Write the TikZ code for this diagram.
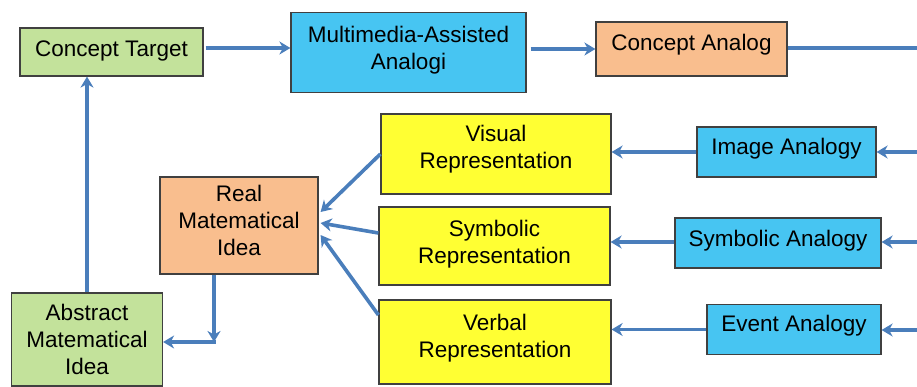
\documentclass[tikz,border=0pt]{standalone}
\usepackage{fontspec}
\setmainfont{Liberation Sans}
\usetikzlibrary{arrows.meta,calc}
\definecolor{boxgreen}{HTML}{C3E29B}
\definecolor{boxblue}{HTML}{47C5F2}
\definecolor{boxorange}{HTML}{F9BE8E}
\definecolor{boxyellow}{HTML}{FFFF33}
\definecolor{arrowblue}{HTML}{4A7EBB}
\definecolor{edgegray}{HTML}{404040}
\tikzset{
  box/.style={draw=edgegray, line width=1.2pt, inner sep=0pt},
  txt/.style={font=\fontsize{22.5}{27}\selectfont, align=center, text=black, inner sep=0pt},
  arr/.style={draw=arrowblue, line width=3.6pt, -{Stealth[length=11pt,width=13pt,inset=3.5pt]}},
  ln/.style={draw=arrowblue, line width=3.6pt}
}
\begin{document}
\begin{tikzpicture}[x=1pt,y=-1pt]
\useasboundingbox (0,0) rectangle (917,387);
% boxes
\node[box, fill=boxgreen, minimum width=183pt, minimum height=48pt,
  label={[txt, yshift=1pt]center:Concept Target}] (ct) at (111.5,52) {};
\node[box, fill=boxblue, minimum width=235pt, minimum height=80pt,
  label={[txt, yshift=2pt]center:Multimedia-Assisted\\Analogi}] (mm) at (408.5,52.5) {};
\node[box, fill=boxorange, minimum width=191pt, minimum height=54pt,
  label={[txt, yshift=4pt]center:Concept Analog}] (ca) at (691.5,49) {};
\node[box, fill=boxyellow, minimum width=230pt, minimum height=80pt,
  label={[txt, yshift=5pt]center:Visual\\Representation}] (vr) at (496,154) {};
\node[box, fill=boxblue, minimum width=179pt, minimum height=50pt,
  label={[txt, yshift=3pt]center:Image Analogy}] (ia) at (786.5,152) {};
\node[box, fill=boxyellow, minimum width=231pt, minimum height=78pt,
  label={[txt, yshift=2pt]center:Symbolic\\Representation}] (sr) at (494.5,246) {};
\node[box, fill=boxblue, minimum width=206pt, minimum height=50pt,
  label={[txt, yshift=2pt]center:Symbolic Analogy}] (sa) at (778,243) {};
\node[box, fill=boxyellow, minimum width=232pt, minimum height=84pt,
  label={[txt, yshift=4pt]center:Verbal\\Representation}] (er) at (495,342) {};
\node[box, fill=boxblue, minimum width=174pt, minimum height=50pt,
  label={[txt, yshift=4pt]center:Event Analogy}] (ea) at (794,329.5) {};
\node[box, fill=boxorange, minimum width=158pt, minimum height=97pt,
  label={[txt, yshift=5pt]center:Real\\Matematical\\Idea}] (rmi) at (239,225.5) {};
\node[box, fill=boxgreen, minimum width=151pt, minimum height=93pt,
  label={[txt, yshift=0pt]center:Abstract\\Matematical\\Idea}] (ami) at (87,339.5) {};
% free ends
\coordinate (e1) at (917,48);
\coordinate (e2) at (917,152);
\coordinate (e3) at (917,242);
\coordinate (e4) at (917,330);
\coordinate (c1) at (214,342);
% connectors
\draw[arr, shorten <=2pt] ([yshift=4pt]ct.east) -- ([yshift=4pt]ct.east -| mm.west);
\draw[arr, shorten <=4pt] (mm.east |- ca.west) -- (ca.west);
\draw[ln] (ca.east |- e1) -- (e1);
\draw[arr] (e2) -- (e2 -| ia.east);
\draw[arr] (e3) -- (e3 -| sa.east);
\draw[arr] (e4) -- (e4 -| ea.east);
\draw[arr] (ia.west) -- (ia.west -| vr.east);
\draw[arr] ([yshift=1pt]sa.west) -- ([yshift=1pt]sa.west -| sr.east);
\draw[arr] (ea.west) -- (ea.west -| er.east);
\draw[arr] (vr.west) -- ([xshift=2pt,yshift=13.5pt]rmi.east);
\draw[arr] ([yshift=13pt]sr.west) -- ([xshift=2pt,yshift=2.5pt]rmi.east);
\draw[arr] ([yshift=27pt]er.west) -- ([xshift=2pt,yshift=-9.5pt]rmi.east);
\draw[arr] (c1 |- rmi.south) -- (c1);
\draw[arr, shorten <=-1.8pt] (c1) -- (c1 -| ami.east);
\draw[arr] (ami.north) -- (ami.north |- ct.south);
\end{tikzpicture}
\end{document}
